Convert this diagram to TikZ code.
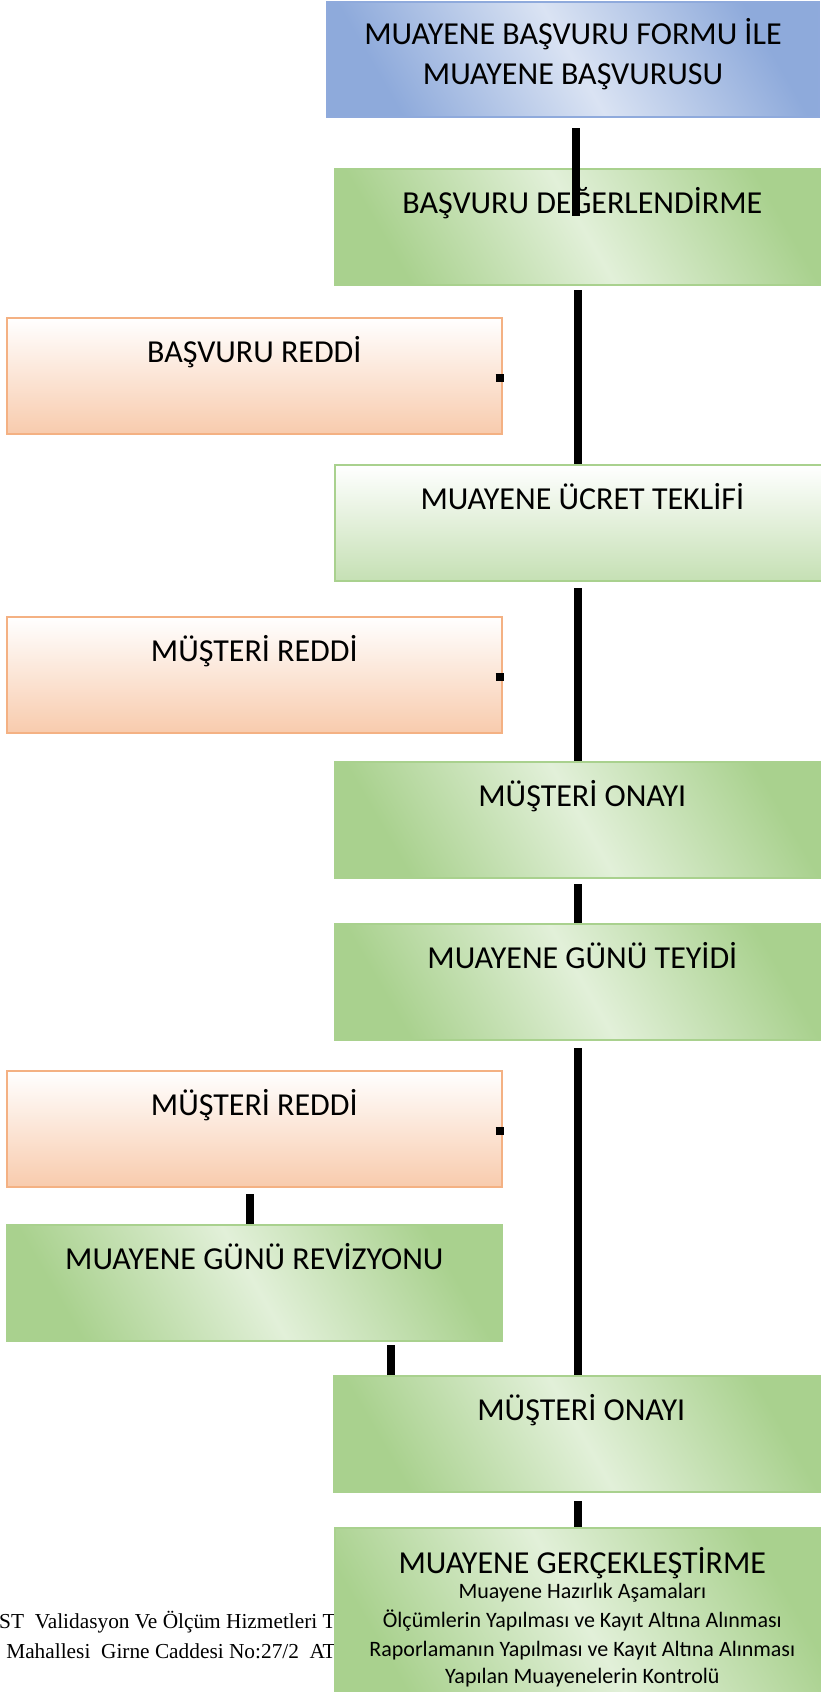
\documentclass[tikz,border=0pt]{standalone}
\usepackage{fontspec}
\setmainfont{Carlito}
\newfontfamily\footfont{Liberation Serif}

\definecolor{blueline}{HTML}{8FAADC}
\definecolor{bluedark}{HTML}{8EAADB}
\definecolor{bluelight}{HTML}{DAE3F3}
\definecolor{greenline}{HTML}{A9D18E}
\definecolor{greendark}{HTML}{A9D18E}
\definecolor{greenlight}{HTML}{E2F0D9}
\definecolor{greensoft}{HTML}{C5E0B4}
\definecolor{peachline}{HTML}{F4B183}
\definecolor{peach}{HTML}{F8CBAD}

\tikzset{
  box/.style={anchor=north west, line width=1.5pt, inner sep=0pt,
    text width=371pt, align=flush center, font=\fontsize{24}{30}\selectfont,
    text height=33pt, text depth=54pt},
  bluebox/.style={box, draw=blueline, left color=bluedark,
    right color=bluedark, middle color=bluelight, shading angle=120},
  greenbox/.style={box, draw=greenline, left color=greendark,
    right color=greendark, middle color=greenlight, shading angle=120},
  palebox/.style={box, draw=greenline, top color=white, bottom color=greensoft},
  rejectbox/.style={box, draw=peachline, top color=white, bottom color=peach},
  link/.style={line width=6pt},
  footline/.style={anchor=base east, inner sep=0pt, font=\footfont\fontsize{16}{20}\selectfont},
}

\begin{document}
\begin{tikzpicture}[x=0.75pt, y=-0.75pt]
  \useasboundingbox (0,0) rectangle (821,1692);
  \clip (0,0) rectangle (821,1692);
  \coordinate (axis1) at (576,0);
  \coordinate (spine) at (578,0);
  \coordinate (side) at (250,0);
  \coordinate (bend) at (391,0);
  %
  \node[bluebox, text width=369pt, text height=31.5pt, text depth=54.75pt] (form) at (326,1)
    {MUAYENE BAŞVURU FORMU İLE\\MUAYENE BAŞVURUSU};
  \node[greenbox] (eval) at (334,168) {BAŞVURU DEĞERLENDİRME};
  \node[rejectbox] (rej1) at (6,317) {BAŞVURU REDDİ};
  \node[palebox] (offer) at (334,464) {MUAYENE ÜCRET TEKLİFİ};
  \node[rejectbox] (rej2) at (6,616) {MÜŞTERİ REDDİ};
  \node[greenbox] (ok1) at (334,761) {MÜŞTERİ ONAYI};
  \node[greenbox] (date) at (334,923) {MUAYENE GÜNÜ TEYİDİ};
  \node[rejectbox] (rej3) at (6,1070) {MÜŞTERİ REDDİ};
  \node[greenbox] (revise) at (6,1224) {MUAYENE GÜNÜ REVİZYONU};
  \node[greenbox] (ok2) at (333,1375) {MÜŞTERİ ONAYI};
  %% footer, partly under the last box
  \node[footline] (foot1) at (336,1628) {ST\ \ Validasyon Ve Ölçüm Hizmetleri T};
  \node[footline] (foot2) at (336,1658) {Mahallesi\ \ Girne Caddesi No:27/2\ \ AT};
  \node[greenbox, font=\fontsize{16.5}{21.75}\selectfont,
        text height=33.75pt, text depth=101pt] (run) at (334,1527)
    {{\fontsize{24}{29}\selectfont MUAYENE GERÇEKLEŞTİRME}\\[-3pt]
     Muayene Hazırlık Aşamaları\\
     Ölçümlerin Yapılması ve Kayıt Altına Alınması\\
     Raporlamanın Yapılması ve Kayıt Altına Alınması\\[-1pt]
     Yapılan Muayenelerin Kontrolü};
  %
  \draw[link] ([yshift=-7.5pt]form.south -| axis1) -- ([yshift=-36pt]eval.north -| axis1);
  \draw[link] ([yshift=-3pt]eval.south -| spine) -- (offer.north -| spine);
  \draw[link] ([yshift=-4.5pt]offer.south -| spine) -- (ok1.north -| spine);
  \draw[link] ([yshift=-3.75pt]ok1.south -| spine) -- (date.north -| spine);
  \draw[link] ([yshift=-5.25pt]date.south -| spine) -- (ok2.north -| spine);
  \draw[link] ([yshift=-4.5pt]rej3.south -| side) -- (revise.north -| side);
  \draw[link] ([yshift=-2.25pt]revise.south -| bend) -- (ok2.north -| bend);
  \draw[link] ([yshift=-6pt]ok2.south -| spine) -- (run.north -| spine);
  %% stubs on the reject boxes
  \draw[link] ([shift={(-5.25pt,-1.5pt)}]rej1.east) -- ([shift={(0.75pt,-1.5pt)}]rej1.east);
  \draw[link] ([shift={(-5.25pt,-1.5pt)}]rej2.east) -- ([shift={(0.75pt,-1.5pt)}]rej2.east);
  \draw[link] ([shift={(-5.25pt,-1.5pt)}]rej3.east) -- ([shift={(0.75pt,-1.5pt)}]rej3.east);
\end{tikzpicture}
\end{document}
